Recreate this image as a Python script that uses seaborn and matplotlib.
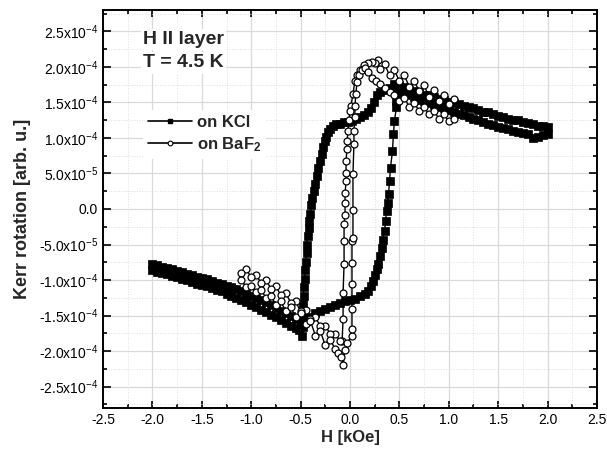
import numpy as np
import pandas as pd
import seaborn as sns
import matplotlib
matplotlib.use("Agg")
from matplotlib import pyplot as plt
from matplotlib.lines import Line2D
from matplotlib.ticker import MultipleLocator, FuncFormatter

# =============================================================================
# data: H in kOe, Kerr rotation in units of 1e-4
# =============================================================================
# KCl, field sweep from +2 down to -2
kcl_down_h = [2.00, 1.95, 1.90, 1.85, 1.80, 1.75, 1.70, 1.65, 1.60, 1.55, 1.50, 1.45, 1.40, 1.35, 1.30,
              1.25, 1.20, 1.15, 1.10, 1.05, 1.00, 0.95, 0.90, 0.85, 0.80, 0.75, 0.70, 0.65, 0.60, 0.55,
              0.50, 0.45, 0.40, 0.35, 0.30, 0.27, 0.24, 0.21, 0.18, 0.14, 0.10, 0.06, 0.02, -0.02, -0.06,
              -0.10, -0.14, -0.17, -0.20, -0.22, -0.24, -0.25, -0.27, -0.28, -0.30, -0.32, -0.33, -0.35,
              -0.36, -0.38, -0.39, -0.40, -0.41, -0.42, -0.43, -0.44, -0.44, -0.45, -0.46, -0.46, -0.47,
              -0.47, -0.48, -0.48, -0.48, -0.48, -0.49, -0.52, -0.55, -0.60, -0.65, -0.70, -0.75, -0.80,
              -0.85, -0.90, -0.95, -1.00, -1.05, -1.10, -1.15, -1.20, -1.25, -1.30, -1.35, -1.40, -1.45,
              -1.50, -1.55, -1.60, -1.65, -1.70, -1.75, -1.80, -1.85, -1.90, -1.95, -2.00]
kcl_down_k = [1.15, 1.17, 1.17, 1.20, 1.21, 1.22, 1.25, 1.25, 1.27, 1.30, 1.31, 1.33, 1.36, 1.37, 1.39,
              1.42, 1.43, 1.45, 1.48, 1.49, 1.51, 1.54, 1.55, 1.57, 1.60, 1.61, 1.63, 1.66, 1.68, 1.71,
              1.74, 1.76, 1.70, 1.67, 1.64, 1.60, 1.50, 1.42, 1.36, 1.32, 1.29, 1.26, 1.24, 1.23, 1.22,
              1.20, 1.19, 1.17, 1.13, 1.09, 1.02, 0.96, 0.87, 0.78, 0.68, 0.58, 0.47, 0.35,
              0.26, 0.16, 0.05, -0.07, -0.17, -0.27, -0.38, -0.50, -0.62, -0.74, -0.86, -0.98, -1.10,
              -1.22, -1.34, -1.46, -1.56, -1.66, -1.79, -1.70, -1.68, -1.64, -1.60, -1.56, -1.52, -1.49,
              -1.45, -1.42, -1.38, -1.35, -1.31, -1.28, -1.25, -1.22, -1.19, -1.16, -1.14, -1.11, -1.09,
              -1.07, -1.05, -1.03, -1.00, -0.98, -0.96, -0.94, -0.92, -0.90, -0.88, -0.86]
# KCl, field sweep from -2 back up to +2
kcl_up_h = [-2.00, -1.95, -1.90, -1.85, -1.80, -1.75, -1.70, -1.65, -1.60, -1.55, -1.50, -1.45, -1.40,
            -1.35, -1.30, -1.25, -1.20, -1.15, -1.10, -1.05, -1.00, -0.95, -0.90, -0.85, -0.80, -0.75,
            -0.70, -0.65, -0.60, -0.55, -0.50, -0.45, -0.40, -0.35, -0.30, -0.25, -0.20, -0.15, -0.10,
            -0.05, 0.00, 0.05, 0.10, 0.15, 0.18, 0.21, 0.23, 0.25, 0.27, 0.28, 0.30, 0.32, 0.33, 0.35,
            0.36, 0.37, 0.38, 0.39, 0.40, 0.41, 0.43, 0.44, 0.45, 0.47, 0.47, 0.48, 0.49, 0.55, 0.60,
            0.65, 0.70, 0.75, 0.80, 0.85, 0.90, 0.95, 1.00, 1.05, 1.10, 1.15, 1.20, 1.25, 1.30, 1.35,
            1.40, 1.45, 1.50, 1.55, 1.60, 1.65, 1.70, 1.75, 1.80, 1.85, 1.90, 1.95, 2.00]
kcl_up_k = [-0.77, -0.79, -0.81, -0.83, -0.85, -0.87, -0.89, -0.91, -0.93, -0.95, -0.97, -0.99, -1.01,
            -1.04, -1.06, -1.08, -1.10, -1.13, -1.16, -1.19, -1.22, -1.25, -1.28, -1.31, -1.35, -1.39,
            -1.43, -1.47, -1.51, -1.55, -1.59, -1.58, -1.52, -1.47, -1.44, -1.41, -1.38, -1.35, -1.32,
            -1.30, -1.28, -1.26, -1.23, -1.20, -1.16, -1.09, -1.02, -0.93, -0.84, -0.78, -0.66, -0.55,
            -0.43, -0.31, -0.17, -0.03, 0.09, 0.21, 0.39, 0.58, 0.82, 1.06, 1.24, 1.43, 1.52, 1.62,
            1.70, 1.62, 1.60, 1.57, 1.54, 1.52, 1.49, 1.47, 1.44, 1.42, 1.39, 1.37, 1.34, 1.32, 1.29,
            1.27, 1.25, 1.22, 1.20, 1.18, 1.16, 1.14, 1.12, 1.10, 1.08, 1.07, 1.05, 1.00, 1.02, 1.04,
            1.05]

# BaF2, field sweep from +1.05 down to -1.1
baf_down_h = [1.05, 1.00, 0.95, 0.90, 0.85, 0.80, 0.75, 0.70, 0.65, 0.60, 0.55, 0.50, 0.45, 0.40,
              0.35, 0.30, 0.28, 0.25, 0.22, 0.18, 0.14, 0.10, 0.07, 0.05, 0.03, 0.01, 0.00, -0.01,
              -0.02, -0.03, -0.03, -0.04, -0.04, -0.04, -0.05, -0.05, -0.05, -0.06, -0.06, -0.06,
              -0.07, -0.07, -0.08, -0.10, -0.15, -0.20, -0.25, -0.30, -0.35, -0.40, -0.45, -0.50,
              -0.55, -0.60, -0.65, -0.70, -0.75, -0.80, -0.85, -0.90, -0.95, -1.00, -1.05, -1.10]
baf_down_k = [1.55, 1.48, 1.60, 1.52, 1.67, 1.58, 1.74, 1.66, 1.80, 1.72, 1.88, 1.80, 1.95, 1.88,
              2.04, 1.97, 2.10, 2.05, 2.07, 2.05, 2.02, 1.95, 1.88, 1.80, 1.62, 1.45, 1.38, 1.25,
              1.10, 0.95, 0.85, 0.68, 0.51, 0.39, 0.22, 0.08, -0.08, -0.21, -0.45, -0.78,
              -1.18, -1.55, -1.86, -1.86, -1.76, -1.76, -1.64, -1.65, -1.52, -1.55, -1.42, -1.44,
              -1.30, -1.32, -1.18, -1.21, -1.09, -1.12, -1.00, -1.04, -0.93, -0.96, -0.85, -0.90]
# BaF2, field sweep from -1.1 back up to +1.05
baf_up_h = [-1.10, -1.05, -1.00, -0.95, -0.90, -0.85, -0.80, -0.75, -0.70, -0.65, -0.60, -0.55,
            -0.50, -0.45, -0.40, -0.35, -0.30, -0.25, -0.20, -0.15, -0.12, -0.09, -0.07, -0.05,
            -0.03, 0.02, 0.02, 0.02, 0.02, 0.02, 0.02, 0.03, 0.03, 0.03, 0.04, 0.04, 0.05, 0.05,
            0.06, 0.07, 0.09, 0.12, 0.15, 0.18, 0.22, 0.26, 0.30, 0.35, 0.40, 0.45, 0.50, 0.55,
            0.60, 0.65, 0.70, 0.75, 0.80, 0.85, 0.90, 0.95, 1.00, 1.05]
baf_up_k = [-1.00, -1.10, -1.08, -1.17, -1.14, -1.25, -1.22, -1.35, -1.30, -1.44, -1.38, -1.52,
            -1.46, -1.62, -1.58, -1.78, -1.72, -1.92, -1.84, -1.97, -2.02, -2.08, -2.20, -1.98,
            -1.88, -1.79, -1.69, -1.40, -1.06, -0.76, -0.45, -0.41, -0.01, 0.49, 0.92, 1.10, 1.30,
            1.45, 1.62, 1.78, 1.88, 1.95, 1.98, 1.93, 1.85, 1.80, 1.76, 1.70, 1.64, 1.60, 1.52,
            1.56, 1.44, 1.49, 1.38, 1.44, 1.33, 1.38, 1.27, 1.33, 1.24, 1.26]

unit = 1e-4
kcl = pd.DataFrame({'H': kcl_down_h + kcl_up_h,
                    'kerr': np.array(kcl_down_k + kcl_up_k) * unit})
baf = pd.DataFrame({'H': baf_down_h + baf_up_h,
                    'kerr': np.array(baf_down_k + baf_up_k) * unit})

# =============================================================================
# style
# =============================================================================
sns.set_style('ticks')
plt.rcParams['font.family'] = ['Liberation Sans', 'DejaVu Sans']
plt.rcParams['mathtext.fontset'] = 'custom'
plt.rcParams['mathtext.rm'] = 'Liberation Sans'
plt.rcParams['mathtext.default'] = 'regular'
plt.rcParams['axes.unicode_minus'] = False

fig = plt.figure(figsize=(6.07, 4.54), dpi=100)
ax = fig.add_axes([0.1697, 0.1013, 0.8138, 0.8767])

# =============================================================================
# plot
# =============================================================================
sns.lineplot(data=kcl, x='H', y='kerr', sort=False, estimator=None, ax=ax,
             color='black', linewidth=1.0, marker='s', markersize=5.5,
             markerfacecolor='black', markeredgecolor='black', markeredgewidth=0.5,
             legend=False, zorder=3)
sns.lineplot(data=baf, x='H', y='kerr', sort=False, estimator=None, ax=ax,
             color='black', linewidth=1.0, marker='o', markersize=5.0,
             markerfacecolor='white', markeredgecolor='black', markeredgewidth=0.9,
             legend=False, zorder=4)

ax.set_xlim(-2.5, 2.5)
ax.set_ylim(-2.8e-4, 2.8e-4)
ax.xaxis.set_major_locator(MultipleLocator(0.5))
ax.xaxis.set_minor_locator(MultipleLocator(0.25))
ax.yaxis.set_major_locator(MultipleLocator(0.5e-4))
ax.yaxis.set_minor_locator(MultipleLocator(0.25e-4))


def sci_label(v, pos):
    if abs(v) < 1e-12:
        return '0.0'
    exp = int(np.floor(np.log10(abs(v))))
    mant = v / 10 ** exp
    return '%.1fx10$^{%d}$' % (mant, exp)


ax.yaxis.set_major_formatter(FuncFormatter(sci_label))
ax.xaxis.set_major_formatter(FuncFormatter(lambda v, p: '%.1f' % v))

ax.grid(which='major', color='#d9d9d9', linewidth=0.9, linestyle='-')
ax.grid(which='minor', color='#dedede', linewidth=0.7, linestyle=':')
ax.set_axisbelow(True)

for side in ['top', 'bottom', 'left', 'right']:
    ax.spines[side].set_visible(True)
    ax.spines[side].set_linewidth(1.4)
    ax.spines[side].set_color('black')
ax.tick_params(which='both', direction='in', top=True, right=True, labelsize=10,
               colors='black', width=1.2)
ax.tick_params(which='major', length=5)
ax.tick_params(which='minor', length=3)
ax.tick_params(axis='y', which='major', length=6)

ax.set_xlabel('H [kOe]', fontsize=12, fontweight='bold', labelpad=2)
ax.set_ylabel('Kerr rotation [arb. u.]', fontsize=13, fontweight='bold', labelpad=6)

# annotation and legend
box = dict(facecolor='white', edgecolor='none', pad=1.5)
ax.text(0.081, 0.925, 'H II layer', transform=ax.transAxes, fontsize=14,
        fontweight='bold', va='center', ha='left', bbox=box, zorder=5)
ax.text(0.081, 0.867, 'T = 4.5 K', transform=ax.transAxes, fontsize=14,
        fontweight='bold', va='center', ha='left', bbox=box, zorder=5)

handles = [Line2D([], [], color='black', linewidth=1.2, marker='s', markersize=3.2,
                  markerfacecolor='black', markeredgecolor='black'),
           Line2D([], [], color='black', linewidth=1.2, marker='o', markersize=3.4,
                  markerfacecolor='white', markeredgecolor='black', markeredgewidth=0.8)]
leg = ax.legend(handles, ['on KCl', 'on BaF$_2$'], loc='upper left',
                bbox_to_anchor=(0.065, 0.77), frameon=True, fancybox=False,
                edgecolor='none', facecolor='white', framealpha=1.0,
                prop={'size': 12, 'weight': 'bold'}, handlelength=2.6,
                handletextpad=0.3, labelspacing=0.3, borderpad=0.3)
leg.set_zorder(5)

fig.savefig('out.png', dpi=100)
